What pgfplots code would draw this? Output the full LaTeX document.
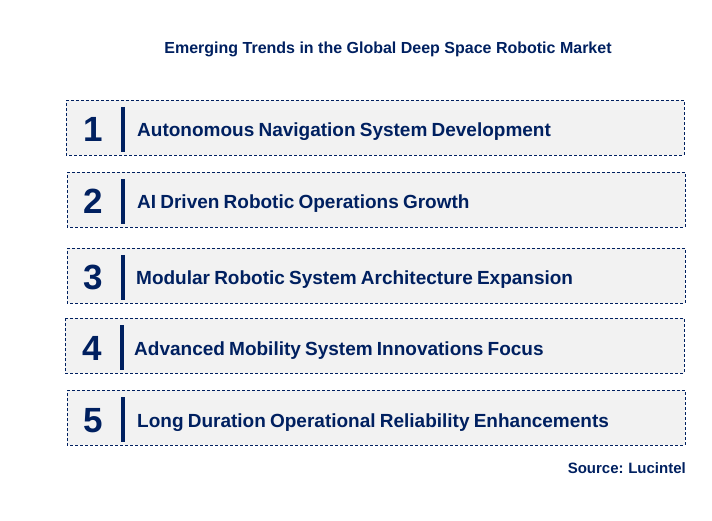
\documentclass[border=0pt]{standalone}
\usepackage{pgfplots}
\pgfplotsset{compat=1.18}
\usepackage{fontspec}
\setmainfont{Liberation Sans}
\definecolor{navy}{HTML}{002060}
\definecolor{boxfill}{HTML}{F2F2F2}
\newcommand{\lab}{\fontsize{19}{19}\selectfont\bfseries\spaceskip=0.22em plus 0.05em minus 0.05em\relax}
\newcommand{\num}{\fontsize{35}{35}\selectfont\bfseries}
\newcommand{\src}{\fontsize{15}{15}\selectfont\bfseries\spaceskip=0.22em plus 0.05em minus 0.05em\relax}
\begin{document}
\begin{tikzpicture}
\path[use as bounding box] (0,0) rectangle (712pt,521pt);
\begin{axis}[
  at={(0,0)}, anchor=south west,
  scale only axis, width=712pt, height=521pt,
  xmin=0, xmax=712, ymin=0, ymax=521, y dir=reverse,
  hide axis, clip=false,
]
% boxes
\addplot[fill=boxfill, draw=navy, dash pattern=on 3pt off 2pt, line width=0.8pt] coordinates {(66,100)(684,100)(684,155)(66,155)} -- cycle;
\addplot[fill=boxfill, draw=navy, dash pattern=on 3pt off 2pt, line width=0.8pt] coordinates {(67,172)(685,172)(685,227)(67,227)} -- cycle;
\addplot[fill=boxfill, draw=navy, dash pattern=on 3pt off 2pt, line width=0.8pt] coordinates {(67,248)(685,248)(685,303)(67,303)} -- cycle;
\addplot[fill=boxfill, draw=navy, dash pattern=on 3pt off 2pt, line width=0.8pt] coordinates {(65,318)(684,318)(684,373)(65,373)} -- cycle;
\addplot[fill=boxfill, draw=navy, dash pattern=on 3pt off 2pt, line width=0.8pt] coordinates {(67,390)(685,390)(685,445)(67,445)} -- cycle;
% separator bars
\addplot[draw=navy, line width=4pt] coordinates {(123,107)(123,152)};
\addplot[draw=navy, line width=4pt] coordinates {(123,179)(123,224)};
\addplot[draw=navy, line width=4pt] coordinates {(123,255)(123,300)};
\addplot[draw=navy, line width=4pt] coordinates {(122,325)(122,370)};
\addplot[draw=navy, line width=4pt] coordinates {(123,397)(123,442)};
% numbers
\node[text=navy, font=\num, anchor=base, inner sep=0pt] at (axis cs:93.5,142) {1};
\node[text=navy, font=\num, anchor=base, inner sep=0pt] at (axis cs:93.5,214) {2};
\node[text=navy, font=\num, anchor=base, inner sep=0pt] at (axis cs:93.5,290) {3};
\node[text=navy, font=\num, anchor=base, inner sep=0pt] at (axis cs:92.5,360) {4};
\node[text=navy, font=\num, anchor=base, inner sep=0pt] at (axis cs:93.5,432) {5};
% labels
\node[text=navy, anchor=base west, inner sep=0pt, font=\lab] at (axis cs:137,137) {Autonomous Navigation System Development};
\node[text=navy, anchor=base west, inner sep=0pt, font=\lab] at (axis cs:137,209) {AI Driven Robotic Operations Growth};
\node[text=navy, anchor=base west, inner sep=0pt, font=\lab] at (axis cs:136,285) {Modular Robotic System Architecture Expansion};
\node[text=navy, anchor=base west, inner sep=0pt, font=\lab] at (axis cs:134,355) {Advanced Mobility System Innovations Focus};
\node[text=navy, anchor=base west, inner sep=0pt, font=\lab] at (axis cs:137,427) {Long Duration Operational Reliability Enhancements};
% title and source
\node[text=navy, anchor=base, inner sep=0pt, font=\fontsize{16}{16}\selectfont\bfseries] at (axis cs:388,54) {Emerging Trends in the Global Deep Space Robotic Market};
\node[text=navy, anchor=base east, inner sep=0pt, font=\src] at (axis cs:686,473) {Source: Lucintel};
\end{axis}
\end{tikzpicture}
\end{document}
